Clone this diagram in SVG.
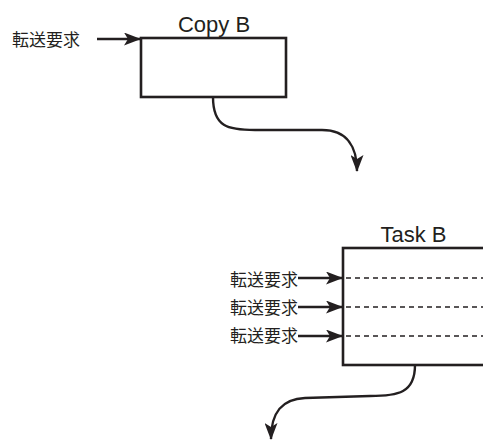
<svg xmlns="http://www.w3.org/2000/svg" width="483" height="442" viewBox="0 0 483 442">
<defs>
<style>
.box{fill:#fff;stroke:#231f20;stroke-width:2.6}
.ln{fill:none;stroke:#231f20;stroke-width:2.4}
.dash{fill:none;stroke:#231f20;stroke-width:1.3;stroke-dasharray:5,4}
.lbl{font-family:"Liberation Sans",Arial,sans-serif;font-size:22px;fill:#231f20}
.jp{font-family:"Noto Sans CJK JP","Noto Sans CJK SC",sans-serif;font-size:17px;fill:#231f20}
</style>
<marker id="ah" viewBox="0 0 17 13" refX="16" refY="6.5" markerWidth="17" markerHeight="13" markerUnits="userSpaceOnUse" orient="auto">
<path d="M0,0 L17,6.5 L0,13 L4,6.5 z" fill="#231f20"/>
</marker>
</defs>
<rect width="483" height="442" fill="#fff"/>
<g id="copyB">
<rect class="box" x="141" y="38" width="145" height="59"/>
<text class="lbl" x="214" y="32" text-anchor="middle">Copy B</text>
</g>
<g id="taskB">
<rect class="box" x="343" y="248" width="160" height="117"/>
<text class="lbl" x="413.5" y="242" text-anchor="middle">Task B</text>
<line class="dash" x1="346" y1="278" x2="483" y2="278"/>
<line class="dash" x1="346" y1="307" x2="483" y2="307"/>
<line class="dash" x1="346" y1="336" x2="483" y2="336"/>
</g>
<g id="labels">
<text class="jp" x="12" y="46">転送要求</text>
<text class="jp" x="298" y="286" text-anchor="end">転送要求</text>
<text class="jp" x="298" y="314" text-anchor="end">転送要求</text>
<text class="jp" x="298" y="342" text-anchor="end">転送要求</text>
</g>
<g id="connectors">
<line class="ln" x1="97" y1="39" x2="140" y2="39" marker-end="url(#ah)"/>
<line class="ln" x1="298" y1="278" x2="342" y2="278" marker-end="url(#ah)"/>
<line class="ln" x1="298" y1="307" x2="342" y2="307" marker-end="url(#ah)"/>
<line class="ln" x1="298" y1="336" x2="342" y2="336" marker-end="url(#ah)"/>
<path class="ln" d="M213,97 C213,127 228,130 255,130 L322,130 C348,130 357,148 357,171" marker-end="url(#ah)"/>
<path class="ln" d="M415,365 C415,393 398,396 370,396 L305,398 C282,399 271,412 271,439" marker-end="url(#ah)"/>
</g>
</svg>
